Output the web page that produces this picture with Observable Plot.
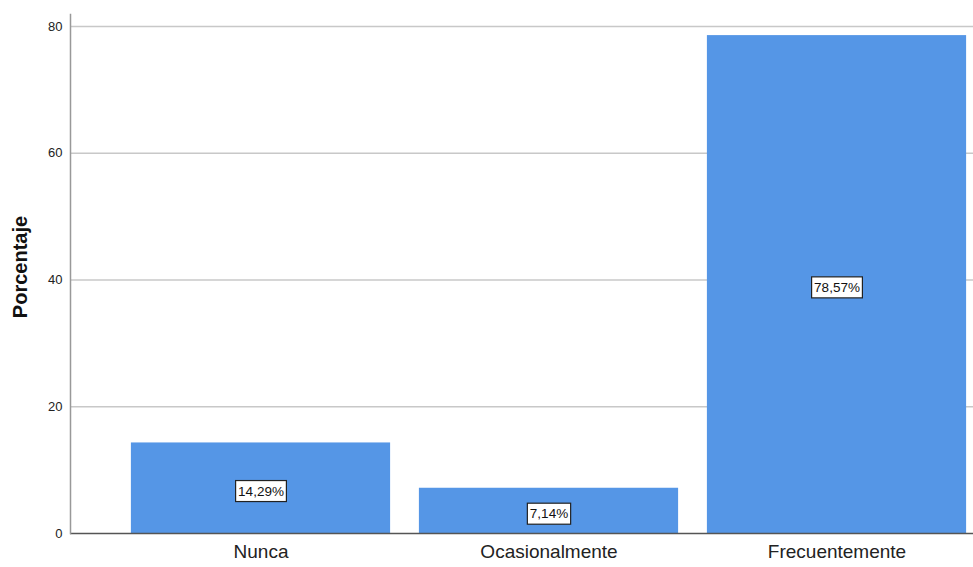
<!DOCTYPE html>
<html><head><meta charset="utf-8">
<script src="https://cdn.jsdelivr.net/npm/d3@7"></script>
<script src="https://cdn.jsdelivr.net/npm/@observablehq/plot@0.6"></script>
<style>body{margin:0;background:#fff}</style>
</head><body><div id="chart"></div>
<script>
const categories = ["Nunca", "Ocasionalmente", "Frecuentemente"];
const percentages = [14.29, 7.14, 78.57];
const valueLabels = ["14,29%", "7,14%", "78,57%"];
const yTicks = [0, 20, 40, 60, 80];
const data = categories.map((c, i) => ({cat: c, pct: percentages[i], label: valueLabels[i]}));
const font = "'Liberation Sans', Arial, sans-serif";

const chart = Plot.plot({
  width: 973, height: 567,
  marginLeft: 70, marginRight: 0, marginTop: 14, marginBottom: 34,
  style: {fontFamily: font, background: "#fff", color: "#222"},
  x: {domain: categories, range: [116.5, 980.5], paddingInner: 0.1, paddingOuter: 0.05, round: false, label: null},
  y: {domain: [0, 81.9], label: null},
  marks: [
    Plot.gridY(yTicks.slice(1), {stroke: "#c8c8c8", strokeOpacity: 1, strokeWidth: 1.5}),
    Plot.barY(data, {x: "cat", y: "pct", fill: "#5596e6"}),
    Plot.ruleY([0], {stroke: "#555", strokeWidth: 1.5}),
    Plot.frame({anchor: "left", stroke: "#999", strokeWidth: 1.5}),
    Plot.axisY(yTicks, {tickSize: 0, tickPadding: 8, fontSize: 13, label: null}),
    Plot.axisX({tickSize: 0, tickPadding: 11, fontSize: 19, label: null}),
    Plot.text(["Porcentaje"], {frameAnchor: "left", textAnchor: "middle", rotate: -90, dx: -50, dy: -7, fontSize: 20, fontWeight: "bold", fill: "#111"}),
    Plot.text(data, {x: "cat", y: d => d.pct / 2, text: "label", fontSize: 13.5, fill: "#111", dy: 3})
  ]
});
document.getElementById("chart").append(chart);

chart.querySelectorAll("text").forEach(t => {
  if (!valueLabels.includes(t.textContent)) return;
  const b = t.getBBox();
  const r = document.createElementNS("http://www.w3.org/2000/svg", "rect");
  r.setAttribute("x", b.x - 2.5);
  r.setAttribute("y", b.y - 3);
  r.setAttribute("width", b.width + 5);
  r.setAttribute("height", b.height + 6);
  if (t.getAttribute("transform")) r.setAttribute("transform", t.getAttribute("transform"));
  r.setAttribute("fill", "#fff");
  r.setAttribute("stroke", "#222");
  r.setAttribute("stroke-width", "1.2");
  t.parentNode.insertBefore(r, t);
});
</script>
</body></html>
